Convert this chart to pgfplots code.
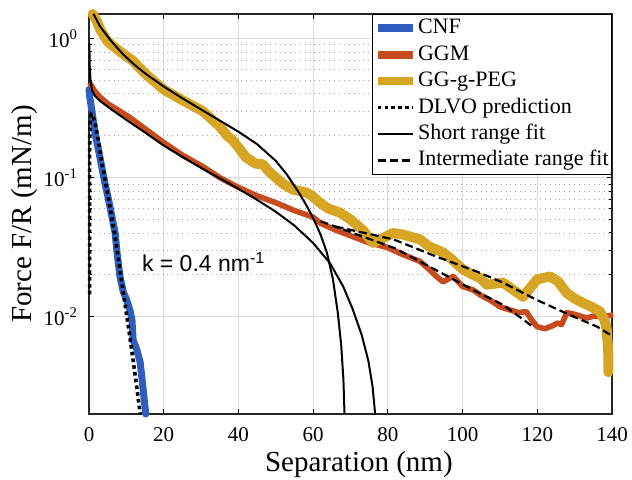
\documentclass[border=0pt]{standalone}
\usepackage{fontspec}
\setmainfont{Liberation Serif}
\newfontfamily\arial{Liberation Sans}
\usepackage{pgfplots}
\pgfplotsset{compat=1.18}
\definecolor{cnf}{HTML}{2F5DBF}
\definecolor{ggm}{HTML}{C64C1F}
\definecolor{peg}{HTML}{D6A523}
\begin{document}
\begin{tikzpicture}
\useasboundingbox (-44.5pt,-32.5pt) rectangle (271.5pt,207pt);
\begin{axis}[
  scale only axis, width=261.5pt, height=200pt,
  ymode=log, xmin=0, xmax=140, ymin=0.002, ymax=1.5,
  clip=false,
  xtick={0,20,40,60,80,100,120,140},
  xticklabels={0,20,40,60,80,100,120,140},
  ytick={0.01,0.1,1},
  yticklabels={10\textsuperscript{-2},10\textsuperscript{-1},10\textsuperscript{0}},
  tick align=inside, major tick length=2.5pt, minor tick length=1.6pt,
  tick label style={font=\fontsize{10.5}{12}\selectfont},
  xticklabel style={yshift=-3pt},
  yticklabel style={xshift=-2pt},
  axis line style={line width=0.7pt, black!85},
  every tick/.style={black, line width=0.5pt},
  grid=both,
  major grid style={gray!28, line width=0.5pt},
  minor grid style={gray!70, line width=0.45pt, dotted},
  xminorgrids=false,
  xlabel={Separation (nm)}, ylabel={Force F/R (mN/m)},
  label style={font=\fontsize{14.5}{16}\selectfont},
  x label style={at={(axis description cs:0.516,-0.1425)}, anchor=base},
  y label style={at={(axis description cs:-0.109,0.5)}, anchor=base},
  legend style={at={(1,1)}, anchor=north east, draw=black, line width=0.6pt,
    fill=white, inner xsep=0.8pt, inner ysep=0.3pt,
    font=\fontsize{11}{13.3}\selectfont, row sep=0pt,
    nodes={inner xsep=0.6pt, inner ysep=0pt, text height=9.3pt, text depth=3.9pt},
    /tikz/every even column/.style={column sep=0pt}},
  legend cell align=left,
  legend image code/.code={\draw[#1] (0pt,0pt) -- (17.5pt,0pt);},
]
% CNF
\addplot[cnf, line width=3.5pt, line join=round, line cap=round, legend image post style={line width=4pt, line cap=butt}] coordinates {
(0.0,0.43) (0.2,0.38) (0.8,0.30) (1.6,0.21) (2.5,0.16) (3.4,0.12) (4.3,0.09) (5.2,0.07)
(6.1,0.053) (7.0,0.040) (7.5,0.029) (8.3,0.0194) (9.2,0.015) (10.1,0.0132) (11.0,0.011)
(11.5,0.0095) (11.8,0.0068) (12.8,0.0058) (13.7,0.0047) (14.5,0.003) (15.2,0.002)
};
\addlegendentry{CNF}
% GGM
\addplot[ggm, line width=2.8pt, line join=round, legend image post style={line width=4pt}] coordinates {
(0.2,0.48) (0.6,0.46) (1.5,0.42) (2.9,0.38) (5,0.34) (8.3,0.30) (11,0.27) (14,0.235)
(17,0.205) (20,0.179) (25,0.145) (30.5,0.12) (35,0.1) (40,0.085) (45,0.074) (50,0.066)
(55,0.058) (60,0.052) (62,0.047) (66,0.042) (70.7,0.0376) (75,0.034) (79.7,0.0316)
(84,0.028) (88.6,0.025) (91,0.022) (93,0.0195) (94.8,0.0178) (96,0.0186) (97.5,0.0195)
(100,0.0165) (102.8,0.0156) (105,0.0142) (107.3,0.0132) (110,0.0118) (112.7,0.0112)
(115,0.0107) (117,0.0109) (118.5,0.0095) (119.9,0.0085) (122,0.0082) (124,0.0086)
(125.3,0.0090) (126.5,0.0088) (127.9,0.0107) (130,0.0104) (133.3,0.0098) (135,0.0101)
(137.6,0.0100) (140.3,0.0103)
};
\addlegendentry{GGM}
% GG-g-PEG
\addplot[peg, line width=5pt, line join=round, line cap=round, legend image post style={line width=4pt, line cap=butt}] coordinates {
(1,1.5) (2,1.35) (3,1.16) (5,0.95) (8.3,0.805) (11.8,0.69) (15,0.56) (20,0.43) (25,0.36)
(30.5,0.30) (35,0.233) (37,0.2) (38.5,0.185) (40,0.165) (42,0.14) (44.6,0.126) (46.5,0.125)
(48,0.112) (50,0.1) (52,0.09) (54.6,0.082) (56.5,0.08) (58.3,0.078) (60,0.073) (61.8,0.066)
(64,0.06) (67.2,0.056) (70,0.05) (73.3,0.042) (76,0.034) (78,0.036) (81.4,0.040) (84,0.039)
(88.6,0.036) (91,0.032) (94.8,0.029) (97,0.026) (100,0.022) (102,0.0205) (104.7,0.019)
(106.5,0.017) (110.8,0.0176) (113,0.016) (116.2,0.0139) (118,0.016) (119.9,0.0185)
(121.5,0.019) (123.4,0.0195) (125.5,0.018) (127.9,0.0148) (130,0.0135) (132.2,0.0126)
(134.5,0.0118) (136.8,0.0109) (138,0.0095) (138.6,0.0081) (139,0.0055) (139,0.004)
};
\addlegendentry{GG-g-PEG}
% DLVO
\addplot[black, line width=1.8pt, dash pattern=on 1.8pt off 1.6pt] coordinates {
(0.15,0.0145) (0.15,0.04) (0.17,0.12) (0.2,0.2) (0.3,0.26) (0.6,0.285) (1.0,0.28)
(1.6,0.25) (2.6,0.18) (3.5,0.125) (4.8,0.082) (6.2,0.05) (7.0,0.037) (7.8,0.027)
(8.8,0.0175) (10.4,0.009) (11.8,0.0049) (12.8,0.0031) (13.7,0.002)
};
\addlegendentry{DLVO prediction}
% Short range fits
\addplot[black, line width=1pt, line join=round] coordinates {
(0.1,0.93) (0.2,0.63) (0.4,0.50) (0.8,0.427) (1.5,0.389) (3,0.355) (6,0.309) (10,0.26)
(15,0.211) (20,0.170) (25,0.141) (30,0.1175) (35,0.0989) (40,0.0832) (45,0.0692)
(50,0.0569) (55,0.0452) (60,0.0339) (64.5,0.0243) (68,0.0166) (70.5,0.0115) (73,0.0074)
(74.8,0.0048) (75.9,0.00316) (76.6,0.002)
};
\addlegendentry{Short range fit}
\addplot[black, line width=1pt, line join=round, forget plot] coordinates {
(1.2,1.5) (3,1.216) (6,0.955) (9,0.776) (12,0.653) (15,0.562) (20,0.452) (25,0.372)
(30,0.309) (35,0.257) (40,0.214) (45,0.174) (50,0.132) (53,0.105) (56,0.0794)
(58,0.0646) (60,0.0513) (62,0.0389) (63.7,0.0288) (65.3,0.0186) (66.6,0.0107)
(67.5,0.0063) (68.1,0.00355) (68.4,0.002)
};
% Intermediate range fits
\addplot[black, line width=1.1pt, dash pattern=on 4pt off 2pt] coordinates {
(62,0.0486) (82,0.031) (102.8,0.0156) (110.8,0.0122) (118.8,0.0085)
};
\addlegendentry{Intermediate range fit}
\addplot[black, line width=1.1pt, dash pattern=on 4pt off 2pt, forget plot] coordinates {
(66,0.0445) (81.5,0.036) (93.1,0.027) (103.9,0.0211) (110.8,0.0176) (119.9,0.0132)
(128.7,0.0103) (136,0.0085) (140.3,0.0072)
};
\node[anchor=base west, font=\arial\fontsize{11.5}{12}\selectfont] at (axis cs:12.3,0.021) {k = 0.4 nm\textsuperscript{-1}};
\end{axis}
\end{tikzpicture}
\end{document}
